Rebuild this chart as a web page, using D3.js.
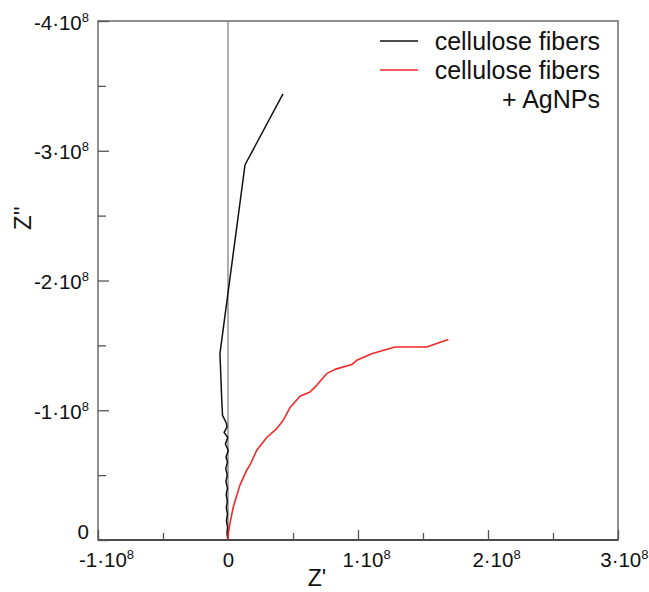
<!DOCTYPE html>
<html>
<head>
<meta charset="utf-8">
<script src="https://cdn.jsdelivr.net/npm/d3@7"></script>
<style>
  html, body { margin: 0; padding: 0; background: #fff; }
  svg { display: block; }
  svg text { font-family: "Liberation Sans", Arial, sans-serif; }
</style>
</head>
<body>
<script>
// ---- data (Ohm) ----
const seriesNames = ["cellulose fibers", "cellulose fibers\n+ AgNPs"];
const seriesColors = ["#111111", "#f02828"];

const fibersZre = [0, -0.008e8, -0.003e8, -0.012e8, -0.004e8, -0.013e8, -0.005e8, -0.014e8, -0.004e8, -0.016e8, -0.006e8, -0.017e8, -0.004e8, -0.015e8, 0.002e8, -0.02e8, -0.002e8, -0.03e8, -0.008e8, -0.012e8, -0.042e8, -0.048e8, -0.062e8, 0.131e8, 0.423e8];
const fibersZim = [0, -0.05e8, -0.1e8, -0.15e8, -0.2e8, -0.25e8, -0.3e8, -0.35e8, -0.4e8, -0.45e8, -0.5e8, -0.55e8, -0.6e8, -0.64e8, -0.69e8, -0.74e8, -0.79e8, -0.83e8, -0.87e8, -0.9e8, -0.96e8, -1.077e8, -1.436e8, -2.892e8, -3.438e8];

const agZre = [0, 0.004e8, 0.015e8, 0.041e8, 0.092e8, 0.144e8, 0.169e8, 0.221e8, 0.298e8, 0.375e8, 0.425e8, 0.477e8, 0.554e8, 0.631e8, 0.682e8, 0.759e8, 0.823e8, 0.952e8, 0.990e8, 1.105e8, 1.285e8, 1.528e8, 1.695e8];
const agZim = [0, -0.06e8, -0.128e8, -0.256e8, -0.423e8, -0.538e8, -0.577e8, -0.692e8, -0.790e8, -0.859e8, -0.923e8, -1.021e8, -1.108e8, -1.141e8, -1.192e8, -1.282e8, -1.315e8, -1.352e8, -1.385e8, -1.436e8, -1.487e8, -1.487e8, -1.546e8];

const xMajorTicks = [-1e8, 0, 1e8, 2e8, 3e8];
const xMinorTicks = [-0.5e8, 0.5e8, 1.5e8, 2.5e8];
const yMajorTicks = [0, -1e8, -2e8, -3e8, -4e8];
const yMinorTicks = [-0.5e8, -1.5e8, -2.5e8, -3.5e8];
const xTitle = "Z'";
const yTitle = "Z''";

// ---- layout ----
const W = 649, H = 592;
const L = 98, R = 618, T = 21, B = 540;
const FONT = "'Liberation Sans', Arial, sans-serif";

const svg = d3.select("body").append("svg").attr("width", W).attr("height", H);
svg.append("rect").attr("width", W).attr("height", H).attr("fill", "#fff");

const x = d3.scaleLinear().domain([-1e8, 3e8]).range([L, R]);
const y = d3.scaleLinear().domain([0, -4e8]).range([B, T]);

// zero line
svg.append("line").attr("x1", x(0)).attr("x2", x(0)).attr("y1", T).attr("y2", B)
  .attr("stroke", "#777").attr("stroke-width", 1.2);

// frame
svg.append("rect").attr("x", L).attr("y", T).attr("width", R - L).attr("height", B - T)
  .attr("fill", "none").attr("stroke", "#6a6a6a").attr("stroke-width", 1.5);
svg.append("line").attr("x1", L).attr("x2", R).attr("y1", B).attr("y2", B)
  .attr("stroke", "#333").attr("stroke-width", 1.5);

function fmt(v) {
  if (v === 0) return null;
  return { m: String(Math.round(v / 1e8)), e: "8" };
}

// axis ticks (inward)
const gxMaj = svg.append("g").attr("transform", `translate(0,${B})`)
  .call(d3.axisBottom(x).tickValues(xMajorTicks).tickSize(-10).tickFormat(""));
const gxMin = svg.append("g").attr("transform", `translate(0,${B})`)
  .call(d3.axisBottom(x).tickValues(xMinorTicks).tickSize(-7).tickFormat(""));
const gyMaj = svg.append("g").attr("transform", `translate(${L},0)`)
  .call(d3.axisLeft(y).tickValues(yMajorTicks).tickSize(-11).tickFormat(""));
const gyMin = svg.append("g").attr("transform", `translate(${L},0)`)
  .call(d3.axisLeft(y).tickValues(yMinorTicks).tickSize(-8).tickFormat(""));
[gxMaj, gxMin, gyMaj, gyMin].forEach(g => {
  g.attr("font-family", FONT).attr("font-size", 20);
  g.select(".domain").remove();
  g.selectAll(".tick text").remove();
  g.selectAll(".tick line").attr("stroke", "#555").attr("stroke-width", 1.3);
});
gxMaj.selectAll(".tick").filter(d => d === 0).select("line").remove();

function addLabel(sel, v) {
  const f = fmt(v);
  const t = sel.append("text").attr("fill", "#111")
    .style("font-family", FONT).style("font-size", "20.5px");
  if (!f) { t.text("0"); return t; }
  t.append("tspan").text(f.m + "\u00B710");
  t.append("tspan").attr("dy", -8).style("font-size", "13px").text(f.e);
  return t;
}

// x labels
const xMax = xMajorTicks[xMajorTicks.length - 1];
gxMaj.selectAll(".tick").each(function(d) {
  const t = addLabel(d3.select(this), d);
  t.attr("y", 27);
  if (d === xMax) {
    t.attr("text-anchor", "end").attr("x", W - x(d) - 1);
  } else {
    t.attr("text-anchor", "middle").attr("x", d === 0 ? 0 : 8);
  }
});
// y labels
gyMaj.selectAll(".tick").each(function(d) {
  const t = addLabel(d3.select(this), d);
  t.attr("text-anchor", "end").attr("x", -9).attr("y", d === 0 ? -2 : 8);
});

// titles
svg.append("text").attr("x", 317).attr("y", 586).attr("text-anchor", "middle")
  .style("font-family", FONT).style("font-size", "23px").attr("fill", "#111").text(xTitle);
svg.append("text").attr("transform", "translate(31,218) rotate(-90)").attr("text-anchor", "middle")
  .style("font-family", FONT).style("font-size", "24px").attr("fill", "#111").text(yTitle);

// series
const line = d3.line().x(d => x(d[0])).y(d => y(d[1]));
const fibers = fibersZre.map((v, i) => [v, fibersZim[i]]);
const ag = agZre.map((v, i) => [v, agZim[i]]);
svg.append("path").datum(fibers).attr("d", line).attr("fill", "none")
  .attr("stroke", seriesColors[0]).attr("stroke-width", 1.5).attr("stroke-linejoin", "round");
svg.append("path").datum(ag).attr("d", line).attr("fill", "none")
  .attr("stroke", seriesColors[1]).attr("stroke-width", 1.6).attr("stroke-linejoin", "round");

// legend
const lg = svg.append("g");
const rowY = [50, 79];
seriesNames.forEach((name, i) => {
  lg.append("line").attr("x1", 380).attr("x2", 418).attr("y1", rowY[i] - 9).attr("y2", rowY[i] - 9)
    .attr("stroke", seriesColors[i]).attr("stroke-width", 1.6);
  name.split("\n").forEach((part, j) => {
    lg.append("text").attr("x", 600).attr("y", rowY[i] + j * 29).attr("text-anchor", "end")
      .style("font-family", FONT).style("font-size", "25px").attr("fill", "#111").text(part);
  });
});
</script>
</body>
</html>
